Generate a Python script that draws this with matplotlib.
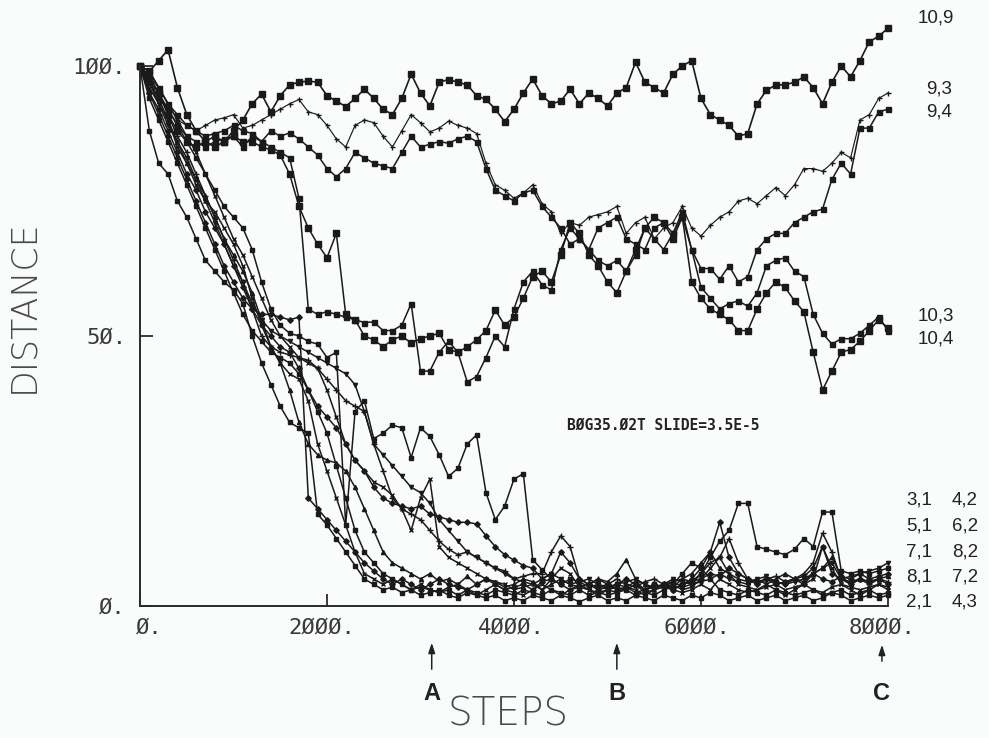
import matplotlib
matplotlib.use("Agg")
import matplotlib.pyplot as plt
from matplotlib.transforms import ScaledTranslation

# ---------------- data (steps every 100) ----------------
steps = list(range(0, 8001, 100))

s_10_9 = [100, 99, 101, 103, 96, 91, 88, 86, 85, 86,
          88, 90, 93, 94.8, 91.5, 94.5, 96.5, 97, 97.2, 97,
          94.5, 93.5, 92.5, 94, 95.7, 94, 92, 91, 94, 98.5,
          95, 92.6, 97, 97.5, 97, 96.5, 94.5, 93.8, 92, 89.7,
          92, 95, 97.6, 94.5, 93, 93.5, 95.7, 93, 95, 94,
          92.6, 95, 96, 100.7, 97, 96, 95, 98.5, 100, 101,
          94, 91, 90, 89, 87, 87.5, 93, 95.5, 96.5, 96.5,
          97, 98, 96, 93, 97, 100, 98, 101, 104.5, 105.5,
          107]

s_9_3 = [100, 98, 96, 93, 90, 89, 88, 89, 90, 90.4,
         91, 88.5, 89, 90, 91, 92, 93, 93.8, 91.5, 91,
         89, 86.5, 85, 89, 90, 89.5, 87, 85, 88, 91,
         89.5, 87.8, 88.5, 89.8, 89, 88.5, 87.5, 82, 78, 77,
         75.5, 76.5, 78, 74.5, 73, 69, 71, 70.5, 72, 72.5,
         73, 74, 69, 71, 72, 68, 70, 71, 74, 70,
         68.5, 70.5, 72, 73, 75, 75.5, 74.5, 76, 77.5, 76,
         78, 81, 81, 80.5, 82, 84, 83, 90, 91, 94,
         95]

s_9_4 = [100, 99, 96, 93, 91, 89, 88, 87, 87.5, 88,
         89, 88, 87.5, 86, 85, 84, 83, 75.5, 55, 54,
         54.5, 54, 53.5, 53, 52.5, 52.6, 51, 51, 52, 56,
         43.5, 43.5, 47, 49, 47, 41.5, 42.5, 46, 50, 48,
         55, 60, 62, 59.5, 58.5, 66, 70, 68, 66, 64,
         63, 64, 62, 65, 70, 68, 66, 69, 73, 66,
         62.5, 62.5, 60.5, 63, 60, 61, 66, 68, 69, 69,
         71, 72, 73, 73.5, 79, 82, 80, 88.5, 88.5, 91.5,
         92]

s_10_3 = [100, 97, 95, 92, 89, 87, 86, 85, 86, 86.5,
          87, 85, 87, 86, 88, 87, 87.6, 86.5, 85, 83.5,
          81, 79.5, 81, 84, 83, 82, 81.5, 81, 84, 87,
          85, 85.5, 86, 85.7, 86.5, 87, 86, 81, 77, 76,
          75, 76.5, 77, 74, 72, 70, 67, 68, 66, 70,
          71, 72, 68, 67, 66, 70, 71, 69, 72, 66,
          59, 57, 55, 56, 56.5, 55.5, 58, 63, 64, 64.5,
          62, 61, 54, 50.5, 48.5, 49.5, 49.5, 50.5, 52, 53.5,
          51]

s_10_4 = [100, 98, 95, 91, 88, 86, 85, 86, 87, 86,
          87, 86, 86, 85, 84.5, 83.5, 80, 74, 70, 67,
          64.5, 69, 54, 53, 50, 49.3, 48, 49.3, 50, 48.7,
          49.5, 50, 50.5, 47.5, 47, 48, 49.3, 51, 54.8, 52,
          53.5, 57, 61, 62, 60, 65, 71, 69, 65, 63,
          60, 58, 62, 66, 70, 72, 71, 68, 72, 60,
          57, 55, 54, 53, 51, 51, 55, 58, 60, 59,
          56.5, 54.5, 47, 40, 43.5, 47, 47.5, 49, 51, 53,
          51.5]

s_2_1 = [100, 88, 82, 80, 75, 72, 68, 64, 62, 60,
         58.5, 56, 50, 45, 41, 37, 34, 33, 32, 17,
         15, 12.5, 10, 7.5, 5, 4, 3, 3.5, 2.5, 3,
         2, 2.5, 3, 2, 1.5, 2.5, 2, 1.5, 2, 1,
         1.5, 1, 2, 1.5, 1, 2, 1.5, 0.8, 1.5, 2,
         1, 1.5, 1, 2, 1.5, 1, 2, 1.5, 1, 2,
         1.5, 2.5, 2, 1, 1.5, 2, 1, 1.5, 2, 1,
         1.5, 2, 1, 1.5, 2.5, 2, 1, 1.5, 2, 1.5,
         2]

s_7_2 = [100, 96, 93, 90, 85, 82, 78, 75, 73, 70,
         67, 63, 57, 52, 48, 45, 43, 42, 38, 30,
         25, 20, 15, 10, 6, 5, 4, 5, 4, 3,
         4, 3, 2.5, 3.5, 4, 3, 2, 3, 4, 3,
         2.5, 2, 3, 4, 3, 2, 3, 4, 3, 2,
         3, 2.5, 3.5, 3, 2, 3, 4, 3, 2.5, 3,
         4, 3, 5, 4, 3, 2.5, 3, 4, 3, 2,
         3, 4, 3, 2.5, 3.5, 4, 3, 2, 3, 4,
         3.5]

s_3_1 = [100, 97, 94, 92, 89, 86, 83, 80, 77, 74,
         72, 70, 66, 60, 55, 52, 50.5, 50, 49, 48.5,
         46, 47, 15, 36, 38, 31, 32, 33.5, 33, 27.5,
         33, 31.4, 28, 24, 25.5, 30, 31.7, 21, 16, 18.5,
         23.5, 24.5, 8.6, 6.7, 5, 4, 5, 4.5, 3.5, 4,
         3, 4, 3.5, 2.5, 3, 4, 3.5, 4.5, 3.5, 4,
         6, 9, 12, 14, 19, 19, 11, 10.5, 10, 9.5,
         10.5, 12.5, 11, 17.4, 17.4, 6.5, 6, 6.5, 6, 6.5,
         7]

s_4_2 = [100, 95, 92, 88, 84, 80, 77, 73, 70, 67,
         63, 59, 55, 52, 50, 48, 47, 44, 40, 37,
         35, 33, 30, 27, 25, 22, 20, 19, 18.5, 18,
         18.5, 17, 16.5, 16, 15.5, 15.5, 15.2, 13, 11, 9.5,
         8.5, 7.5, 7, 5, 6, 10, 8, 5, 4, 3.5,
         4, 3, 3.5, 4.5, 3, 4, 3.5, 3, 4, 5,
         7, 10, 15.5, 9, 6, 5, 4, 5, 4.5, 4,
         5, 4, 6, 5, 4.5, 5.5, 5, 6, 5, 5.5,
         6]

s_5_1 = [100, 98, 95, 91, 87, 84, 80, 76, 72, 68,
         64, 60, 55, 50, 48, 47, 46.5, 46, 45.5, 44,
         42, 40, 38, 37, 36, 30, 25, 20, 18, 17,
         16, 14, 12, 10.5, 9.5, 10, 9, 8, 7, 6.5,
         5, 5.5, 6, 6, 10, 13, 11, 5, 4, 5,
         4, 5, 4, 3.5, 4.5, 5, 4, 3.5, 5, 4.5,
         6, 8, 9, 12.5, 8, 5, 4, 5, 5.5, 4.5,
         5, 6, 8, 13.5, 10, 5, 4.5, 5, 4, 5,
         4.5]

s_6_2 = [100, 97, 94, 90, 86, 82, 79, 76, 72, 68,
         65, 62, 58, 53, 48, 45, 40, 34, 30, 28,
         27, 26.5, 25, 22, 18, 14, 10, 8, 7, 6,
         5, 6, 4.5, 5, 4, 5.5, 4, 5, 4.5, 3.5,
         4, 5, 4.5, 3, 4, 5, 4, 3.5, 4, 5,
         4.5, 6, 8.6, 5, 4, 3.5, 4, 4.5, 5, 6,
         8, 10, 7, 6, 5, 4.5, 5, 4, 5, 6,
         5, 4.5, 6, 7, 9, 5.5, 4, 5, 4.5, 5,
         5.5]

s_7_1 = [100, 99, 96, 93, 90, 87, 84, 80, 76, 72,
         68, 65, 61, 57, 53, 50, 48, 46, 45, 44,
         40, 35, 30, 27, 25, 23, 22, 20.5, 18, 14,
         20, 23.5, 11, 9, 8, 7, 6, 5, 4.5, 4,
         3, 3.5, 4, 3, 5, 7, 6, 3.5, 3, 2.5,
         3, 3.5, 3, 4, 2.5, 3, 3.5, 4, 3, 3.5,
         5, 7, 9, 6, 4, 3.5, 3, 3.5, 4, 3,
         3.5, 4, 5, 11, 7, 4, 3.5, 3, 3.5, 4,
         3]

s_8_2 = [100, 94, 90, 86, 82, 78, 74, 70, 66, 62,
         58, 54, 51, 49, 47, 46, 45, 43, 40, 36,
         32, 26, 20, 14, 10, 8, 6, 5, 4, 3,
         3.5, 3, 2.5, 3, 2, 3, 2.5, 2, 3, 2.5,
         2, 3, 2.5, 2, 3, 2.5, 2, 3, 2, 2.5,
         2, 2.5, 3, 2, 2.5, 2, 3, 4, 6, 8,
         7, 5, 3, 2.5, 2, 3, 2.5, 2, 3, 2.5,
         2, 2.5, 3, 2, 2.5, 3, 2, 2.5, 3, 2,
         2.5]

s_4_3 = [100, 95, 91, 87, 83, 79, 75, 71, 67, 63,
         60, 57, 55, 54, 54, 53.5, 53, 53.5, 20, 18,
         16, 14, 12, 10, 8, 6.5, 5, 4, 5, 4,
         3, 4, 5, 4, 3.5, 3, 4, 5, 4, 3,
         3.5, 4, 3, 4.5, 5, 4, 3, 3.5, 4, 3,
         3.5, 4, 5, 4, 3, 3.5, 4, 3, 4, 4.5,
         5, 6, 5.5, 7, 6, 5, 4.5, 5, 4, 4.5,
         5, 5.5, 7, 11, 6, 5, 4, 5, 4.5, 5,
         4]

s_8_1 = [100, 97, 93, 89, 86, 83, 79, 75, 71, 67,
         63, 60, 56, 53, 51, 50, 49, 48, 47, 46,
         45, 44, 43, 41, 36, 30, 28, 26, 24, 22,
         21, 19, 16, 14, 12, 10, 9, 8, 7, 6,
         5, 4.5, 4, 5, 6, 5, 4, 4.5, 5, 4,
         3.5, 4, 4.5, 5, 4, 3, 4, 5, 4.5, 4,
         4.5, 5, 6, 5, 4.5, 4, 5, 5.5, 4.5, 4,
         4.5, 5, 6, 7, 8, 5, 5.5, 6, 6.5, 7,
         8]

x_ticks = [0, 2000, 4000, 6000, 8000]
x_ticklabels = ["Ø.", "2ØØØ.", "4ØØØ.", "6ØØØ.", "8ØØØ."]
y_ticks = [0, 50, 100]
y_ticklabels = ["Ø.", "5Ø.", "1ØØ."]
marks = [("A", 3120), ("B", 5100), ("C", 7935)]

# ---------------- figure ----------------
W, H = 989, 738
fig = plt.figure(figsize=(W / 100, H / 100), dpi=100)
bg = "#fafbfb"
fig.patch.set_facecolor(bg)

ax = fig.add_axes([140 / W, 1 - 606 / H, (888 - 140) / W, (606 - 12) / H])
ax.set_facecolor(bg)
ax.set_xlim(0, 8000)
ax.set_ylim(0, 110)

ink = "#1a1a1a"
upper = [(s_10_9, "s", 3.8, 1.2), (s_9_3, "+", 3.6, 0.85), (s_9_4, "s", 3.6, 1.1),
         (s_10_3, "s", 3.6, 1.1), (s_10_4, "s", 3.8, 1.1)]
lower = [(s_2_1, "s", 3.2), (s_7_2, "x", 3.4), (s_3_1, "s", 3.4), (s_4_2, "D", 2.8),
         (s_5_1, "+", 3.8), (s_6_2, "^", 3.0), (s_7_1, "x", 3.4), (s_8_2, "s", 3.0),
         (s_4_3, "D", 2.8), (s_8_1, "v", 3.0)]

for ys, m, ms, lw in upper:
    ax.plot(steps, ys, color=ink, lw=lw, marker=m, ms=ms, mew=1.0, clip_on=False)
for ys, m, ms in lower:
    ax.plot(steps, ys, color=ink, lw=1.1, marker=m, ms=ms, mew=1.0, clip_on=False)

for s in ("top", "right"):
    ax.spines[s].set_visible(False)
for s in ("left", "bottom"):
    ax.spines[s].set_linewidth(1.4)
    ax.spines[s].set_color("#2a2a2a")
ax.spines["left"].set_bounds(0, 100)
ax.spines["bottom"].set_bounds(0, 8000)

tick_font = dict(family="DejaVu Sans Mono", size=16)
ax.set_xticks(x_ticks)
ax.set_xticklabels(x_ticklabels, fontdict=tick_font, color="#3a3a3a")
ax.set_yticks(y_ticks)
ax.set_yticklabels(y_ticklabels, fontdict=tick_font, color="#3a3a3a")
ax.tick_params(axis="both", direction="in", length=9, width=1.3, color="#2a2a2a")
ax.tick_params(axis="x", pad=8)
ax.tick_params(axis="y", pad=10)

# nudge x tick labels as in the plotter output
shifts = [9, -5, -3, -4, -6]
for lab, dx in zip(ax.get_xticklabels(), shifts):
    lab.set_transform(lab.get_transform() + ScaledTranslation(dx / 100, 0, fig.dpi_scale_trans))

# axis titles
fig.text(508 / W, 1 - 715 / H, "STEPS", ha="center", va="center",
         fontsize=28, color="#4a4a4a", family="DejaVu Sans", fontweight="light")
fig.text(23 / W, 1 - 306 / H, "DISTANCE", ha="center", va="center", rotation=90,
         fontsize=25, color="#4a4a4a", family="DejaVu Sans", fontweight="light")

# run annotation
ax.text(4567, 33.5, "BØG35.Ø2T SLIDE=3.5E-5", ha="left", va="center",
        fontsize=10.5, family="DejaVu Sans Mono", fontweight="bold", color="#222222")

# right-hand series labels
lab_font = dict(family="Liberation Sans", fontsize=13.5, color="#222222")
right_single = [("10,9", 918, 18), ("9,3", 926, 89), ("9,4", 926, 112),
                ("10,3", 918, 316), ("10,4", 918, 339)]
for t, px, py in right_single:
    fig.text(px / W, 1 - py / H, t, ha="left", va="center", **lab_font)
right_pairs = [("3,1", "4,2", 500), ("5,1", "6,2", 526), ("7,1", "8,2", 552),
               ("8,1", "7,2", 577), ("2,1", "4,3", 602)]
for a, b, py in right_pairs:
    fig.text(906 / W, 1 - py / H, a, ha="left", va="center", **lab_font)
    fig.text(952 / W, 1 - py / H, b, ha="left", va="center", **lab_font)

# A / B / C markers below the axis
for letter, xv in marks:
    head = H - 640 if letter != "C" else H - 642
    tail = H - 672 if letter != "C" else H - 664
    ax.annotate("", xy=(xv, head), xycoords=("data", "figure pixels"),
                xytext=(xv, tail), textcoords=("data", "figure pixels"),
                arrowprops=dict(arrowstyle="-|>,head_length=0.6,head_width=0.2",
                                color="#222222", lw=1.1))
    ax.annotate(letter, xy=(xv, H - 694), xycoords=("data", "figure pixels"),
                ha="center", va="center", fontsize=17, fontweight="bold",
                family="Liberation Sans", color="#222222")

fig.savefig("out.png", dpi=100, facecolor=bg)
